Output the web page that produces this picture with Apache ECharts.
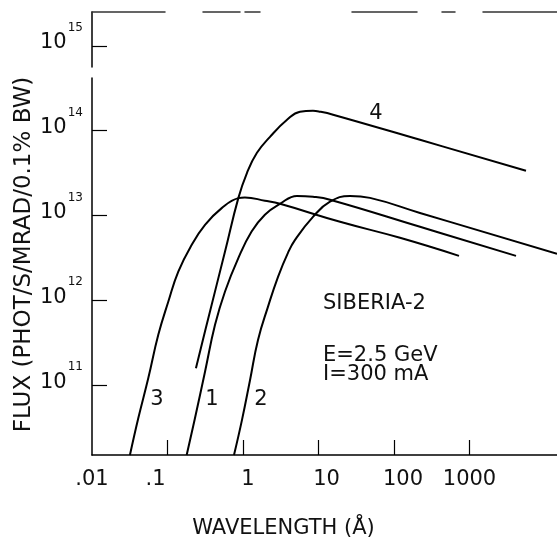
<!DOCTYPE html>
<html>
<head>
<meta charset="utf-8">
<script src="https://cdn.jsdelivr.net/npm/echarts@6/dist/echarts.min.js"></script>
<style>
html,body{margin:0;padding:0;background:#fff;}
#chart{width:557px;height:537px;}
</style>
</head>
<body>
<div id="chart"></div>
<script>
// Wavelength (Angstrom) tick labels and flux ticks
const xTickValues = [0.01, 0.1, 1, 10, 100, 1000];
const yTickValues = [1e11, 1e12, 1e13, 1e14, 1e15];
const yTickExponents = ['11', '12', '13', '14', '15'];

// Curves: [wavelength (A), flux (phot/s/mrad/0.1% BW)]
const curve1 = [[0.1795,1.5e10],[0.231,4.07e10],[0.314,1.44e11],[0.426,5.13e11],[0.578,1.27e12],[0.867,3.14e12],[1.30,6.46e12],[1.95,1.02e13],[3.09,1.37e13],[5.19,1.70e13],[8.45,1.66e13],[14.2,1.53e13],[221,7.34e12],[4130,3.34e12]];
const curve2 = [[0.76,1.5e10],[0.97,3.89e10],[1.24,1.15e11],[1.58,3.41e11],[2.14,8.36e11],[2.91,1.89e12],[3.94,3.62e12],[4.89,5.15e12],[8.45,9.62e12],[14.2,1.45e13],[26.1,1.70e13],[48.1,1.61e13],[221,1.07e13],[14420,3.52e12]];
const curve3 = [[0.0318,1.5e10],[0.0410,4.07e10],[0.0557,1.21e11],[0.0755,3.91e11],[0.1026,9.66e11],[0.139,2.18e12],[0.2095,4.50e12],[0.314,7.75e12],[0.522,1.22e13],[0.867,1.60e13],[1.06,1.63e13],[1.95,1.49e13],[3.09,1.37e13],[19.3,8.41e12],[120,5.45e12],[726,3.34e12]];
const curve4 = [[0.238,1.58e11],[0.347,6.15e11],[0.578,3.75e12],[0.867,1.60e13],[1.13,3.18e13],[1.53,5.47e13],[2.28,8.45e13],[3.83,1.34e14],[5.69,1.67e14],[8.45,1.71e14],[10.5,1.67e14],[15.6,1.54e14],[221,7.79e13],[5600,3.36e13]];
const curveNames = ['1', '2', '3', '4'];

const FONT = 'DejaVu Sans';
// small horizontal nudges of the x tick labels (px), as in the original plot
const xLabelNudge = [0, -12, 5, 8, 9, 0];

const chart = echarts.init(document.getElementById('chart'), null, {renderer: 'canvas'});

function fmtX(v) {
  const i = xTickValues.findIndex(t => Math.abs(Math.log10(t) - Math.log10(v)) < 1e-6);
  const s = v < 1 ? String(v).replace(/^0/, '') : String(Math.round(v));
  return i < 0 ? s : '{n' + i + '|' + s + '}';
}
function fmtY(v) {
  const i = yTickValues.findIndex(t => Math.abs(Math.log10(t) - Math.log10(v)) < 1e-6);
  if (i < 0) return '';
  return '{b|10}{e|' + yTickExponents[i] + '}';
}
const xRich = {};
xLabelNudge.forEach((d, i) => {
  xRich['n' + i] = {fontFamily: FONT, fontSize: 21, color: '#111',
    padding: [0, d < 0 ? -2 * d : 0, 0, d > 0 ? 2 * d : 0]};
});

function lineSeries(name, data) {
  return {
    name: name, type: 'line', data: data, showSymbol: false,
    smooth: 0.45, clip: true,
    lineStyle: {color: '#000', width: 2}, silent: true
  };
}

const txt = (text, x, y, align) => ({
  type: 'text', x: x, y: y,
  style: {text: text, font: '21px ' + FONT, fill: '#111', textAlign: align || 'left', textVerticalAlign: 'middle'}
});

chart.setOption({
  animation: false,
  backgroundColor: '#fff',
  grid: {left: 92, top: 12, right: 0, bottom: 82, containLabel: false, outerBoundsMode: 'none'},
  xAxis: [{
    type: 'log', logBase: 10, min: 0.01, max: 14420,
    name: 'WAVELENGTH (Å)', nameLocation: 'middle', nameGap: 63, nameMoveOverlap: false,
    nameTextStyle: {fontFamily: FONT, fontSize: 21, color: '#111', padding: [0, 82, 0, 0]},
    axisLine: {lineStyle: {color: '#000', width: 1.5}},
    axisTick: {inside: true, length: 15, customValues: xTickValues.slice(1), lineStyle: {color: '#000', width: 1.2}},
    axisLabel: {customValues: xTickValues, formatter: fmtX, margin: 14, fontFamily: FONT, fontSize: 21, color: '#111', rich: xRich},
    splitLine: {show: false}, minorTick: {show: false}
  }, {
    type: 'log', logBase: 10, min: 0.01, max: 14420, position: 'top',
    axisLine: {show: true, lineStyle: {color: '#333', width: 1.5, type: [73, 38, 37, 5, 15, 92, 65, 25, 13, 28, 74, 10]}},
    axisTick: {show: false}, axisLabel: {show: false}, splitLine: {show: false}
  }],
  yAxis: [{
    type: 'log', logBase: 10, min: 1.5e10, max: 2.5e15,
    name: 'FLUX (PHOT/S/MRAD/0.1% BW)', nameLocation: 'middle', nameRotate: 90, nameGap: 56, nameMoveOverlap: false,
    nameTextStyle: {fontFamily: FONT, fontSize: 23, color: '#111', padding: [0, 42, 0, 0]},
    axisLine: {lineStyle: {color: '#000', width: 1.5, type: [377, 11, 100]}},
    axisTick: {inside: true, length: 15, customValues: yTickValues, lineStyle: {color: '#000', width: 1.2}},
    axisLabel: {
      customValues: yTickValues, formatter: fmtY, margin: 9,
      rich: {
        b: {fontFamily: FONT, fontSize: 21, color: '#111', padding: [0, 0, 6, 0]},
        e: {fontFamily: FONT, fontSize: 12, color: '#111', padding: [0, 0, 36, 1]}
      }
    },
    splitLine: {show: false}, minorTick: {show: false}
  }],
  series: [
    lineSeries(curveNames[0], curve1),
    lineSeries(curveNames[1], curve2),
    lineSeries(curveNames[2], curve3),
    lineSeries(curveNames[3], curve4)
  ],
  graphic: [
    txt('SIBERIA-2', 323, 304),
    txt('E=2.5 GeV', 323, 356),
    txt('I=300 mA', 323, 375),
    txt(curveNames[2], 157, 400, 'center'),
    txt(curveNames[0], 212, 400, 'center'),
    txt(curveNames[1], 261, 400, 'center'),
    txt(curveNames[3], 376, 114, 'center')
  ]
});
</script>
</body>
</html>
